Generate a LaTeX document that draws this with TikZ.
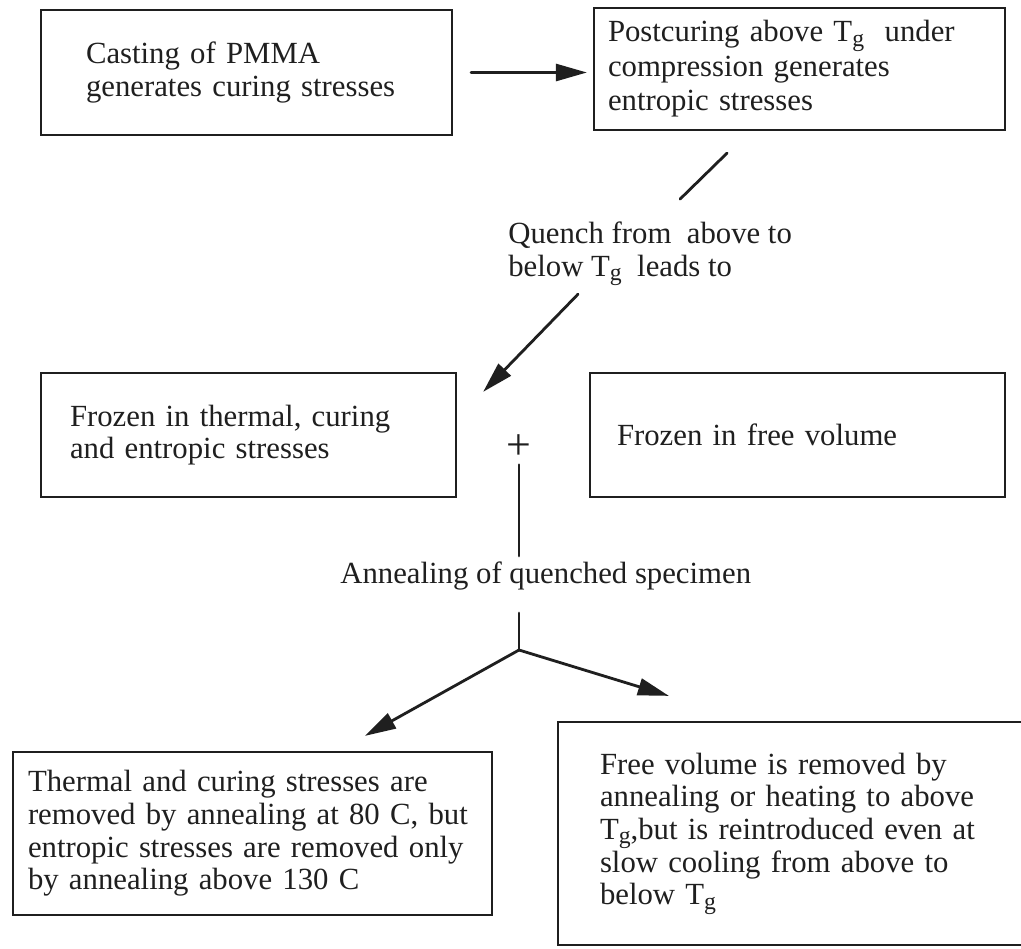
\documentclass[tikz,border=0pt]{standalone}
\usepackage{fontspec}
\setmainfont{Liberation Serif}
\usetikzlibrary{arrows.meta}
\definecolor{ink}{HTML}{1F1F1F}
% glass transition temperature, with a large lowered g
\newcommand{\Tglass}{T\raisebox{-0.3ex}{\fontsize{13.5}{13.5}\selectfont g}}

\begin{document}
\begin{tikzpicture}[
    font=\fontsize{17.5}{18.6}\selectfont,
    box/.style={draw=ink, line width=1.3pt, align=left, text=ink},
    lbl/.style={inner sep=0pt, align=left, text=ink},
    link/.style={draw=ink, line width=1.6pt, line cap=round},
    arr/.style={link, -{Triangle[length=6.2mm, width=3.4mm]}}]
  \useasboundingbox (0,0) rectangle (20.42,-18.96);
  % top row
  \node[box, minimum height=2.5cm, inner xsep=0.9cm, text width=6.42cm] (casting) at (4.93,-1.45) {Casting of PMMA\\ generates curing stresses};
  \node[box, minimum height=2.44cm, inner xsep=0.28cm, text width=7.66cm, font=\fontsize{17.5}{19.6}\selectfont] (postcure) at (15.99,-1.38) {Postcuring above \Tglass{} \ under\\ compression generates\\ entropic stresses};
  \node[lbl, anchor=west] (quench) at (10.16,-5.08) {Quench from \ above to\\ below \Tglass{} \ leads to};
  % frozen-in state
  \node[box, minimum height=2.48cm, inner xsep=0.58cm, text width=7.14cm] (frozen) at (4.97,-8.7) {Frozen in thermal, curing\\ and entropic stresses};
  \node[box, minimum height=2.48cm, inner xsep=0.54cm, text width=7.22cm] (freevol) at (15.95,-8.7) {Frozen in free volume};
  \node[lbl, font=\fontsize{25}{25}\selectfont] (plus) at (10.38,-8.94) {+};
  \node[lbl, anchor=base west] (anneal) at (6.8,-11.66) {Annealing of quenched specimen};
  \coordinate (fork) at (10.38,-13.0);
  % results of annealing
  \node[box, minimum height=3.26cm, inner xsep=0.3cm, text width=8.98cm] (removal) at (5.05,-16.67) {Thermal and curing stresses are\\ removed by annealing at 80 C, but\\ entropic stresses are removed only\\ by annealing above 130 C};
  \node[box, minimum height=4.46cm, inner xsep=0.84cm, text width=7.96cm] (freerem) at (15.98,-16.67) {Free volume is removed by\\ annealing or heating to above\\ \Tglass,but is reintroduced even at\\ slow cooling from above to\\ below \Tglass};
  % connectors
  \draw[arr, shorten <=0.36cm, shorten >=0.12cm] (casting.east) -- (casting.east -| postcure.west);
  \draw[link] ([shift={(-1.45,-0.44)}]postcure.south) -- ++(-0.94,-0.92);
  \draw[arr] ([shift={(1.4,-0.16)}]quench.south west) -- ([shift={(0.52,-0.4)}]frozen.north east);
  \draw[link, shorten <=0.1cm, shorten >=0.1cm] (plus.south) -- (plus.south |- anneal.north);
  \draw[link, shorten <=0.46cm] (fork |- anneal.south) -- (fork);
  \draw[arr] (fork) -- ([shift={(2.25,0.3)}]removal.north);
  \draw[arr] (fork) -- ([shift={(2.24,0.5)}]freerem.north west);
\end{tikzpicture}
\end{document}
